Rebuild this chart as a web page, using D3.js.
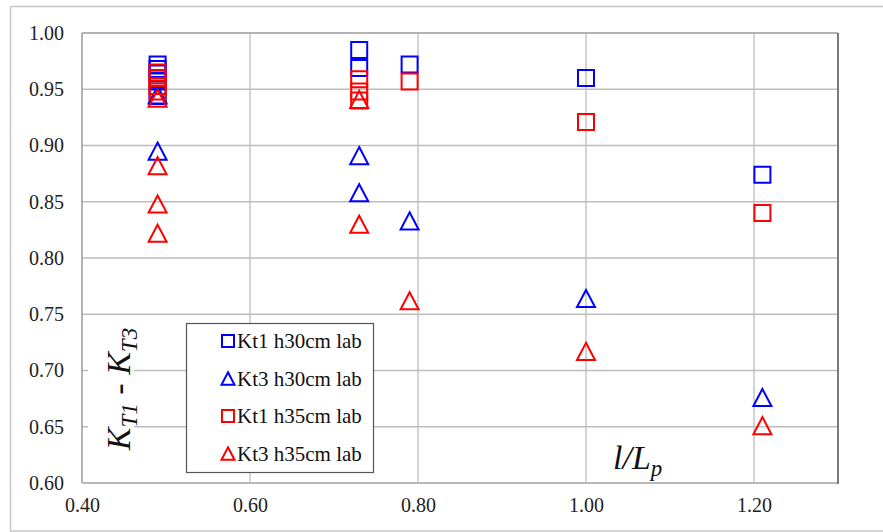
<!DOCTYPE html>
<html>
<head>
<meta charset="utf-8">
<script src="https://cdn.jsdelivr.net/npm/d3@7"></script>
<style>
  html, body { margin: 0; padding: 0; background: #fff; }
  svg { display: block; }
  svg text { font-family: "Liberation Serif", "DejaVu Serif", serif; }
</style>
</head>
<body>
<div id="chart"></div>
<script>
// --- Data ---
var xTicks = [0.40, 0.60, 0.80, 1.00, 1.20];
var yTicks = [0.60, 0.65, 0.70, 0.75, 0.80, 0.85, 0.90, 0.95, 1.00];

var seriesNames = ["Kt1 h30cm lab", "Kt3 h30cm lab", "Kt1 h35cm lab", "Kt3 h35cm lab"];

var kt1h30 = [
  [0.49, 0.972], [0.49, 0.968], [0.49, 0.964], [0.49, 0.957], [0.49, 0.944],
  [0.73, 0.985], [0.73, 0.969],
  [0.79, 0.972], [1.00, 0.960], [1.21, 0.874]
];
var kt3h30 = [
  [0.49, 0.945], [0.49, 0.895],
  [0.73, 0.891], [0.73, 0.858],
  [0.79, 0.833], [1.00, 0.764], [1.21, 0.676]
];
var kt1h35 = [
  [0.49, 0.965], [0.49, 0.960], [0.49, 0.953], [0.49, 0.948],
  [0.73, 0.959], [0.73, 0.948], [0.73, 0.940],
  [0.79, 0.957], [1.00, 0.921], [1.21, 0.840]
];
var kt3h35 = [
  [0.49, 0.942], [0.49, 0.882], [0.49, 0.848], [0.49, 0.822],
  [0.73, 0.941], [0.73, 0.830],
  [0.79, 0.762], [1.00, 0.717], [1.21, 0.651]
];

var W = 883, H = 532;
var svg = d3.select("#chart").append("svg")
  .attr("width", W)
  .attr("height", H);

var serif = "'Liberation Serif', 'DejaVu Serif', serif";

// outer frame
svg.append("rect")
  .attr("x", 10.5).attr("y", 6.5)
  .attr("width", W).attr("height", H - 7.5)
  .attr("fill", "#fff")
  .attr("stroke", "#c8c8c8")
  .attr("stroke-width", 1.5);

// --- Scales ---
var scX = d3.scaleLinear().domain([0.40, 1.30]).range([82, 838]);
var scY = d3.scaleLinear().domain([0.60, 1.00]).range([483, 33]);

// --- Grid ---
var grid = svg.append("g");
grid.selectAll("line.h")
  .data(yTicks.slice(1, -1))
  .enter().append("line")
  .attr("x1", scX(0.40)).attr("x2", scX(1.30))
  .attr("y1", d => scY(d)).attr("y2", d => scY(d))
  .attr("stroke", "#bdbdbd").attr("stroke-width", 1.3);
grid.selectAll("line.v")
  .data(xTicks.slice(1))
  .enter().append("line")
  .attr("x1", d => scX(d)).attr("x2", d => scX(d))
  .attr("y1", scY(0.60)).attr("y2", scY(1.00))
  .attr("stroke", "#bdbdbd").attr("stroke-width", 1.3);

// plot border
svg.append("line").attr("x1", 82).attr("x2", 838).attr("y1", 33).attr("y2", 33)
  .attr("stroke", "#9a9a9a").attr("stroke-width", 1.5);
svg.append("line").attr("x1", 82).attr("x2", 82).attr("y1", 33).attr("y2", 483)
  .attr("stroke", "#9a9a9a").attr("stroke-width", 1.5);
svg.append("line").attr("x1", 82).attr("x2", 838).attr("y1", 483).attr("y2", 483)
  .attr("stroke", "#b8b8b8").attr("stroke-width", 2);
svg.append("line").attr("x1", 838).attr("x2", 838).attr("y1", 33).attr("y2", 484)
  .attr("stroke", "#7a7a7a").attr("stroke-width", 2);

// --- Axes (labels only, Excel style) ---
var yAxis = svg.append("g")
  .attr("transform", "translate(82,0)")
  .call(d3.axisLeft(scY).tickValues(yTicks).tickFormat(d3.format(".2f")).tickSize(0).tickPadding(18));
var xAxis = svg.append("g")
  .attr("transform", "translate(0,483)")
  .call(d3.axisBottom(scX).tickValues(xTicks).tickFormat(d3.format(".2f")).tickSize(0).tickPadding(15));
[yAxis, xAxis].forEach(function(g) {
  g.attr("font-family", null).attr("font-size", null);
  g.select(".domain").remove();
  g.selectAll("text")
    .style("font-family", serif)
    .style("font-size", "20px")
    .attr("fill", "#222");
});

// --- Axis titles ---
svg.append("rect")
  .attr("x", 88).attr("y", 322).attr("width", 46).attr("height", 136)
  .attr("fill", "#fff");
var yt = svg.append("text")
  .attr("transform", "translate(130,389) rotate(-90)")
  .attr("text-anchor", "middle")
  .style("font-family", serif)
  .style("font-style", "italic")
  .style("font-size", "34px")
  .attr("fill", "#111");
yt.append("tspan").text("K");
yt.append("tspan").style("font-size", "23px").attr("dy", 7).text("T1");
yt.append("tspan").attr("dy", -7).text(" - K");
yt.append("tspan").style("font-size", "23px").attr("dy", 7).text("T3");

var xt = svg.append("text")
  .attr("x", 613).attr("y", 469)
  .style("font-family", serif)
  .style("font-style", "italic")
  .style("font-size", "34px")
  .attr("fill", "#111");
xt.append("tspan").text("l/L");
xt.append("tspan").style("font-size", "23px").attr("dy", 7).text("p");

// --- Markers ---
var blue = "#0000ff", red = "#ff0000";
var sq = d3.symbol().type(d3.symbolSquare).size(16 * 16);
var tri = function(s) {
  // triangle with centre at the marker point
  var h = s * 0.95, w = s;
  return "M0," + (-h / 2) + "L" + (w / 2) + "," + (h / 2) + "L" + (-w / 2) + "," + (h / 2) + "Z";
};

var series = [
  { data: kt1h30, color: blue, shape: "sq" },
  { data: kt3h30, color: blue, shape: "tri" },
  { data: kt1h35, color: red, shape: "sq" },
  { data: kt3h35, color: red, shape: "tri" }
];

series.forEach(function(s) {
  svg.append("g").selectAll("path")
    .data(s.data)
    .enter().append("path")
    .attr("transform", d => `translate(${scX(d[0])},${scY(d[1])})`)
    .attr("d", s.shape === "sq" ? sq() : tri(18))
    .attr("fill", "none")
    .attr("stroke", s.color)
    .attr("stroke-width", 2);
});

// --- Legend ---
var lg = svg.append("g").attr("transform", "translate(186,323)");
lg.append("rect")
  .attr("x", 0.5).attr("y", 0.5).attr("width", 187).attr("height", 149)
  .attr("fill", "#fff")
  .attr("stroke", "#555").attr("stroke-width", 1.2);
var lsq = d3.symbol().type(d3.symbolSquare).size(12 * 12);
var rows = lg.selectAll("g.row")
  .data(series)
  .enter().append("g")
  .attr("transform", (d, i) => `translate(0,${18 + i * 37.5})`);
rows.append("path")
  .attr("transform", "translate(42,0)")
  .attr("d", d => d.shape === "sq" ? lsq() : tri(13))
  .attr("fill", "none")
  .attr("stroke", d => d.color)
  .attr("stroke-width", 2);
rows.append("text")
  .attr("x", 51).attr("y", 7)
  .style("font-family", serif)
  .style("font-size", "21px")
  .attr("fill", "#111")
  .text((d, i) => seriesNames[i]);
</script>
</body>
</html>
